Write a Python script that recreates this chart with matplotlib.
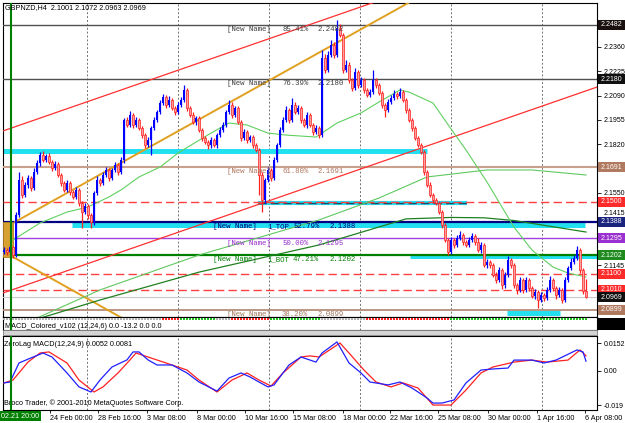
import matplotlib
matplotlib.use("Agg")
import matplotlib.pyplot as plt
import numpy as np
import matplotlib.transforms as mtransforms
from matplotlib.patches import Rectangle

W, H = 625, 423

# ---------------- data ----------------
symbol = "GBPNZD,H4"
first_open = 2.1220
closes = [
    2.1231, 2.1220, 2.1248, 2.1203, 2.1426, 2.1620, 2.1537, 2.1592, 2.1631, 2.1576,
    2.1665, 2.1715, 2.1759, 2.1731, 2.1754, 2.1720, 2.1687, 2.1709, 2.1648, 2.1603,
    2.1565, 2.1603, 2.1553, 2.1526, 2.1565, 2.1492, 2.1442, 2.1476, 2.1426, 2.1387,
    2.1548, 2.1620, 2.1603, 2.1648, 2.1676, 2.1631, 2.1676, 2.1704, 2.1665, 2.1731,
    2.1954, 2.1926, 2.1982, 2.1926, 2.1954, 2.1909, 2.1870, 2.1814, 2.1843, 2.1909,
    2.1954, 2.1998, 2.2048, 2.2082, 2.2037, 2.2065, 2.2021, 2.1998, 2.2037, 2.2065,
    2.2121, 2.2021, 2.1982, 2.1943, 2.1965, 2.1898, 2.1854, 2.1831, 2.1814, 2.1843,
    2.1814, 2.1870, 2.1898, 2.1926, 2.1998, 2.2037, 2.1982, 2.2021, 2.1943, 2.1854,
    2.1887, 2.1843, 2.1859, 2.1814, 2.1787, 2.1648, 2.1509, 2.1620, 2.1676, 2.1631,
    2.1731, 2.1814, 2.1898, 2.1954, 2.2009, 2.1954, 2.2037, 2.1998, 2.2021, 2.1954,
    2.1926, 2.1982, 2.1926, 2.1887, 2.1909, 2.1870, 2.2299, 2.2232, 2.2315, 2.2371,
    2.2315, 2.2465, 2.2426, 2.2232, 2.2260, 2.2176, 2.2132, 2.2221, 2.2148, 2.2176,
    2.2121, 2.2093, 2.2109, 2.2176, 2.2148, 2.2104, 2.2037, 2.2009, 2.2054, 2.2076,
    2.2098, 2.2087, 2.2109, 2.2065, 2.2009, 2.1954, 2.1909, 2.1854, 2.1814, 2.1776,
    2.1665, 2.1592, 2.1537, 2.1509, 2.1492, 2.1442, 2.1370, 2.1287, 2.1220, 2.1287,
    2.1259, 2.1298, 2.1314, 2.1276, 2.1259, 2.1287, 2.1309, 2.1276, 2.1231, 2.1259,
    2.1147, 2.1164, 2.1147, 2.1092, 2.1064, 2.1120, 2.1036, 2.1092, 2.1175, 2.1147,
    2.1036, 2.1009, 2.1064, 2.1009, 2.1064, 2.1020, 2.0975, 2.0998, 2.0953, 2.0981,
    2.0964, 2.1009, 2.1064, 2.1020, 2.0981, 2.1009, 2.0953, 2.1064, 2.1131, 2.1164,
    2.1186, 2.1231, 2.1120, 2.1001, 2.0969]
# upper / lower shadow lengths in pips
wick_hi = [
    15, 10, 12, 8, 16, 45, 20, 15, 18, 12, 20, 18, 15, 22, 12, 15, 10, 18, 12, 10,
    12, 15, 10, 12, 14, 10, 12, 15, 10, 12, 10, 20, 12, 15, 18, 10, 12, 15, 10, 15,
    12, 15, 20, 10, 14, 12, 10, 12, 15, 12, 15, 12, 18, 15, 12, 20, 10, 12, 15, 18,
    27, 12, 10, 15, 12, 10, 12, 10, 12, 15, 10, 12, 15, 18, 12, 28, 15, 12, 10, 12,
    15, 10, 12, 10, 12, 10, 15, 12, 18, 12, 15, 12, 18, 15, 20, 12, 39, 15, 18, 10,
    12, 15, 10, 12, 15, 10, 44, 20, 25, 28, 15, 45, 20, 12, 25, 15, 10, 20, 12, 15,
    12, 10, 15, 56, 12, 10, 12, 10, 15, 18, 20, 12, 22, 10, 12, 10, 12, 10, 12, 10,
    12, 10, 15, 12, 10, 12, 10, 12, 10, 15, 12, 15, 20, 12, 10, 18, 15, 12, 20, 15,
    12, 15, 10, 12, 15, 18, 12, 15, 25, 12, 10, 12, 15, 10, 18, 12, 10, 15, 12, 15,
    12, 15, 20, 12, 10, 18, 12, 15, 12, 20, 15, 23, 10, 12, 71]
wick_lo = [
    12, 15, 10, 17, 10, 12, 15, 12, 15, 18, 10, 12, 15, 10, 12, 12, 15, 10, 12, 15,
    12, 10, 15, 12, 10, 15, 89, 12, 20, 34, 17, 12, 15, 10, 12, 15, 10, 12, 15, 10,
    15, 12, 10, 15, 12, 12, 15, 18, 12, 84, 10, 12, 10, 12, 15, 10, 12, 15, 10, 12,
    10, 15, 12, 10, 15, 12, 15, 12, 20, 15, 12, 15, 10, 12, 10, 12, 15, 10, 12, 15,
    12, 15, 12, 15, 12, 111, 67, 15, 12, 15, 12, 10, 12, 10, 12, 15, 10, 12, 10, 15,
    12, 15, 12, 15, 12, 15, 10, 18, 12, 10, 15, 12, 10, 15, 12, 15, 18, 10, 15, 12,
    15, 12, 10, 12, 15, 12, 15, 38, 12, 10, 12, 15, 10, 12, 15, 12, 15, 12, 10, 12,
    15, 12, 10, 15, 12, 10, 15, 12, 17, 12, 15, 12, 10, 15, 12, 10, 12, 15, 12, 15,
    12, 15, 18, 12, 15, 12, 20, 15, 12, 15, 15, 20, 12, 15, 12, 15, 12, 15, 44, 12,
    15, 12, 10, 15, 20, 12, 15, 12, 10, 12, 12, 10, 15, 12, 6]

# moving averages (bar, value)
ma_fast_bars = [3, 12, 21, 28, 35, 39, 45, 52, 58, 64, 69, 75, 81, 88, 94, 104, 111,
                119, 125, 132, 135, 143, 150, 154, 161, 170, 176, 183, 188, 194]
ma_fast_vals = [2.1287, 2.1381, 2.1442, 2.1470, 2.1526, 2.1565, 2.1637, 2.1692, 2.1770,
                2.1831, 2.1881, 2.1937, 2.1926, 2.1881, 2.1870, 2.1859, 2.1937, 2.1993,
                2.2054, 2.2121, 2.2109, 2.2048, 2.1881, 2.1787, 2.1609, 2.1358, 2.1231,
                2.1136, 2.1103, 2.1081]
ma_mid_bars = [2, 32, 65, 105, 125, 141, 161, 176, 194]
ma_mid_vals = [2.0786, 2.1009, 2.1203, 2.1398, 2.1520, 2.1637, 2.1676, 2.1676, 2.1648]
ma_slow_bars = [-1, 32, 65, 105, 134, 149, 160, 170, 194]
ma_slow_vals = [2.0786, 2.0953, 2.1108, 2.1259, 2.1404, 2.1412, 2.1410, 2.1395, 2.1331]

# fibonacci levels
fib_prices = [2.2482, 2.2180, 2.1691, 2.1388, 2.1295, 2.1202, 2.0899]
fib_pcts = ["85.41%", "76.39%", "61.80%", "52.79%", "50.00%", "47.21%", "38.20%"]
fib_tags = ["", "", "", "1_TOP", "", "1_BOT", ""]
red_levels = [2.1500, 2.1100, 2.1010]
bid_price = 2.0969

# cyan zones: price, first bar, last bar
zones = [(2.1781, -0.3, 141.0), (2.1370, 22.7, 193.7), (2.1198, 135.3, 197.7),
         (2.0881, 167.7, 185.3)]
dash_zone = (2.1492, 84.7, 154.3)

# trend lines: (bar0, price0, bar1, price1)
red_channel = [(-0.33, 2.1893, 197.67, 2.3038), (-0.33, 2.0992, 197.67, 2.2137)]
orange_lines = [(3.67, 2.1387, 135.33, 2.2610), (3.0, 2.1192, 60.0, 2.0660)]
orange_box = (-0.33, 3.0, 2.1192, 2.1387)
vline_bar = 2.33

# ZeroLag MACD
macd_bars = [0, 2, 5, 9, 13, 16, 21, 25, 29, 32, 36, 41, 43, 45, 48, 51, 56, 61, 65,
             71, 75, 79, 82, 85, 88, 90, 95, 99, 104, 106, 111, 115, 119, 122, 128,
             132, 136, 141, 143, 146, 150, 154, 159, 163, 168, 170, 176, 180, 184,
             191, 193, 194]
macd_vals = [-0.0068, -0.0063, 0.0042, 0.0070, 0.0097, 0.0075, -0.0013, -0.0090,
             -0.0118, -0.0052, 0.0020, 0.0059, 0.0103, 0.0103, 0.0059, 0.0031, 0.0031,
             -0.0013, -0.0063, -0.0113, -0.0041, -0.0013, -0.0035, -0.0063, -0.0090,
             -0.0079, 0.0031, 0.0075, 0.0047, 0.0097, 0.0158, 0.0042, -0.0013, -0.0063,
             -0.0079, -0.0063, -0.0096, -0.0151, -0.0179, -0.0179, -0.0162, -0.0068,
             0.0003, 0.0009, 0.0014, 0.0058, 0.0058, 0.0042, 0.0058, 0.0114, 0.0103,
             0.0052]
signal_bars = [0, 3, 8, 12, 15, 21, 25, 30, 33, 38, 42, 44, 48, 54, 61, 65, 71, 76,
               81, 85, 89, 93, 99, 102, 105, 112, 115, 120, 124, 129, 133, 138, 143,
               149, 154, 159, 163, 170, 176, 181, 188, 192, 194]
signal_vals = [-0.0068, -0.0052, 0.0047, 0.0097, 0.0103, 0.0042, -0.0052, -0.0118,
               -0.0090, -0.0013, 0.0059, 0.0097, 0.0075, 0.0042, 0.0003, -0.0052,
               -0.0118, -0.0052, -0.0013, -0.0052, -0.0085, -0.0013, 0.0075, 0.0081,
               0.0075, 0.0152, 0.0097, 0.0003, -0.0063, -0.0090, -0.0068, -0.0096,
               -0.0190, -0.0190, -0.0107, -0.0013, 0.0020, 0.0047, 0.0058, 0.0047,
               0.0058, 0.0114, 0.0081]

# MACD_Colored strip: (first bar, last bar, colour)
strip_segments = [(0, 52, "#b0b0b0"), (53, 58, "#ff2020"), (59, 70, "#20c020"),
                  (71, 75, "#b0b0b0"), (76, 88, "#ff2020"), (89, 105, "#20c020"),
                  (106, 120, "#b0b0b0"), (121, 148, "#ff2020"), (149, 194, "#20c020")]

time_labels = ["24 Feb 00:00", "28 Feb 16:00", "3 Mar 08:00", "8 Mar 00:00",
               "10 Mar 16:00", "15 Mar 08:00", "18 Mar 00:00", "22 Mar 16:00",
               "25 Mar 08:00", "30 Mar 00:00", "1 Apr 16:00", "6 Apr 08:00"]
time_label_bars = [15.3, 31.3, 47.7, 64.3, 80.3, 96.3, 113.0, 128.7, 144.7, 161.3,
                   177.7, 193.7]
price_ticks = [2.2360, 2.2225, 2.2090, 2.1955, 2.1820, 2.1550, 2.1415, 2.1145]

# ---------------- drawing ----------------
SANS = "Liberation Sans"
MONO = "Liberation Mono"


def px_box(x0, y0, x1, y1):
    return [x0 / W, 1 - y1 / H, (x1 - x0) / W, (y1 - y0) / H]


def bar_of(px):
    return (px - 4) / 3.0


fig = plt.figure(figsize=(W / 100, H / 100), dpi=100)
fig.patch.set_facecolor("white")
XL = (bar_of(3), bar_of(597))

ax = fig.add_axes(px_box(3, 3, 597, 317))
strip = fig.add_axes(px_box(3, 317, 597, 330))
mac = fig.add_axes(px_box(3, 336, 597, 410))

for a in (ax, strip, mac):
    a.set_xlim(*XL)
    for s in a.spines.values():
        s.set_color("black")
        s.set_linewidth(0.8)
ax.set_ylim(2.08585, 2.26043)
mac.set_ylim(-0.02173, 0.01908)
strip.set_ylim(0, 1)

# vertical grid
grid_x = bar_of(87) + np.arange(6) * 30.33
for a in (ax, strip, mac):
    for gx in grid_x:
        a.axvline(gx, color="#707070", lw=0.7, ls=(0, (2, 2)), zorder=1)
    a.axvline(vline_bar, color="#008000", lw=1.5, zorder=7)

# cyan zones
for p, b0, b1 in zones:
    ax.plot([b0, b1], [p, p], color="#22e0f0", lw=3.6, solid_capstyle="butt", zorder=2)
p, b0, b1 = dash_zone
ax.plot([b0, b1], [p, p], color="#22e0f0", lw=3.0, solid_capstyle="butt", zorder=2)
ax.plot([b0, b1], [p, p], color="#304060", lw=1.0, ls=(0, (6, 3)), zorder=2.1)

# horizontal levels
fib_colors = ["#505050", "#505050", "#c8a08c", "#000080", "#a040e0", "#008000", "#b48c78"]
fib_text_colors = ["#404040", "#404040", "#b07860", "#000080", "#9932cc", "#008000",
                   "#a07860"]
fib_widths = [1.0, 1.0, 1.5, 1.6, 1.0, 1.6, 1.3]
for p, col, lw in zip(fib_prices, fib_colors, fib_widths):
    ax.axhline(p, color=col, lw=lw, zorder=3)
for p in red_levels:
    ax.axhline(p, color="#ff4040", lw=1.0, ls=(0, (6, 3)), zorder=3)
ax.axhline(bid_price, color="#c8c8c8", lw=0.8, zorder=3)

# trend lines
for b0, p0, b1, p1 in red_channel:
    ax.plot([b0, b1], [p0, p1], color="#ff3030", lw=0.9, zorder=3)
for b0, p0, b1, p1 in orange_lines:
    ax.plot([b0, b1], [p0, p1], color="#e0a020", lw=1.4, zorder=3)
ob = orange_box
ax.add_patch(Rectangle((ob[0], ob[2]), ob[1] - ob[0], ob[3] - ob[2],
                       fc="#d8a030", ec="#b08020", lw=0.6, zorder=3))

# moving averages
ax.plot(ma_slow_bars, ma_slow_vals, color="#208020", lw=0.9, zorder=3.5)
ax.plot(ma_mid_bars, ma_mid_vals, color="#60c860", lw=0.8, zorder=3.5)
ax.plot(ma_fast_bars, ma_fast_vals, color="#60d060", lw=0.8, zorder=3.5)

# candles
c = np.array(closes)
o = np.r_[first_open, c[:-1]]
hi = np.maximum(o, c) + np.array(wick_hi) * 1e-4
lo = np.minimum(o, c) - np.array(wick_lo) * 1e-4
idx = np.arange(len(c))
up = c >= o
dn = ~up
body = np.maximum(np.abs(c - o), 0.0004)
ax.vlines(idx[up], lo[up], hi[up], color="#0000ff", lw=0.9, zorder=5)
ax.vlines(idx[dn], lo[dn], hi[dn], color="#ff2020", lw=0.9, zorder=5)
ax.bar(idx[up], body[up], bottom=np.minimum(o, c)[up], width=0.85, color="#0000ff",
       lw=0, zorder=5.1)
ax.bar(idx[dn], body[dn], bottom=np.minimum(o, c)[dn], width=0.85, facecolor="#ff9c9c",
       edgecolor="#ff2020", lw=0.5, zorder=5.1)

# fib texts
for p, pct, tag, tc in zip(fib_prices, fib_pcts, fib_tags, fib_text_colors):
    yp = p - 0.0006
    kw = dict(fontsize=5.3, family=MONO, color=tc, va="top", zorder=6, clip_on=True)
    if tag:
        ax.text(bar_of(213), yp, "[New Name]", **kw)
        ax.text(bar_of(267), yp, tag, **kw)
        ax.text(bar_of(293), yp, pct, **kw)
        ax.text(bar_of(330), yp, f"{p:.4f}", **kw)
    else:
        ax.text(bar_of(227), yp, "[New Name]", **kw)
        ax.text(bar_of(282), yp, pct, **kw)
        ax.text(bar_of(318), yp, f"{p:.4f}", **kw)

# right price scale
ax.set_xticks([])
ax.yaxis.tick_right()
ax.set_yticks(price_ticks)
ax.set_yticklabels([f"{t:.4f}" for t in price_ticks], fontsize=5, family=SANS)
ax.tick_params(axis="y", length=3, width=0.6, pad=1.5)
for t, lab in zip(price_ticks, ax.get_yticklabels()):
    if t == 2.1415:
        lab.set_va("bottom")

tag_prices = [2.2482, 2.2180, 2.1691, 2.1500, 2.1388, 2.1295, 2.1202, 2.1100, 2.1010,
              2.0969, 2.0899]
tag_colors = ["#1a1010", "#101010", "#b07a60", "#ff2a2a", "#1a237e", "#9b30d0",
              "#1f8b1f", "#ff2a2a", "#ff2a2a", "#101010", "#b07a60"]
btrans = mtransforms.blended_transform_factory(ax.transAxes, ax.transData)
hpx = 0.1746 / 314.0
for p, col in zip(tag_prices, tag_colors):
    ax.add_patch(Rectangle((1.002, p - 5 * hpx), 27 / 594, 10 * hpx, transform=btrans,
                           fc=col, ec="none", clip_on=False, zorder=8))
    ax.text(1.006, p, f"{p:.4f}", transform=btrans, fontsize=5, family=SANS,
            color="white", va="center", ha="left", clip_on=False, zorder=9)

# top-left info
fig.text(5 / W, 1 - 8 / H, f"{symbol}  {o[-1]:.4f} {hi[-1]:.4f} {lo[-1]:.4f} {c[-1]:.4f}",
         fontsize=5.2, family=SANS, va="center", ha="left")

# MACD_Colored strip
strip.set_xticks([])
strip.set_yticks([])
for b0, b1, col in strip_segments:
    xs = np.arange(b0, b1 + 1)
    strip.scatter(xs, np.full(len(xs), 0.82), s=0.6, marker="s", color=col, lw=0,
                  zorder=3)
strip.text(bar_of(5), 0.3, "MACD_Colored_v102 (12,24,6) 0.0 -13.2 0.0 0.0",
           fontsize=5.2, family=SANS, va="center", ha="left")
fig.add_artist(Rectangle((597 / W, 1 - 330 / H), 28 / W, 12 / H,
                         transform=fig.transFigure, fc="black", ec="none"))
fig.add_artist(Rectangle((3 / W, 1 - 335 / H), 594 / W, 5 / H,
                         transform=fig.transFigure, fc="#d4d4d4", ec="#808080", lw=0.6))

# ZeroLag MACD panel
mac.plot(signal_bars, signal_vals, color="#ff2020", lw=0.9, zorder=4)
mac.plot(macd_bars, macd_vals, color="#2020ff", lw=0.9, zorder=4)
mac.yaxis.tick_right()
mac.set_yticks([0.0152, 0.0, -0.019])
mac.set_yticklabels(["0.0152", "0.00", "-0.019"], fontsize=5, family=SANS)
mac.tick_params(axis="y", length=3, width=0.6, pad=1.5)
mac.set_xticks(time_label_bars)
mac.set_xticklabels(time_labels, fontsize=5.2, family=SANS, ha="left")
mac.tick_params(axis="x", length=2, width=0.6, pad=1.5)
mac.text(bar_of(4), 0.0142, f"ZeroLag MACD(12,24,9) {macd_vals[-1]:.4f} {signal_vals[-1]:.4f}",
         fontsize=5.2, family=SANS, va="center", ha="left")
mac.text(bar_of(4), -0.0178, "Broco Trader, \u00a9 2001-2010 MetaQuotes Software Corp.",
         fontsize=5.2, family=SANS, va="center", ha="left")

fig.text(1 / W, 1 - 416 / H, "02.21 20:00", fontsize=5.2, family=SANS, color="white",
         va="center", ha="left",
         bbox=dict(boxstyle="square,pad=0.25", fc="#008000", ec="none"))

fig.savefig("out.png", dpi=100, facecolor="white")
